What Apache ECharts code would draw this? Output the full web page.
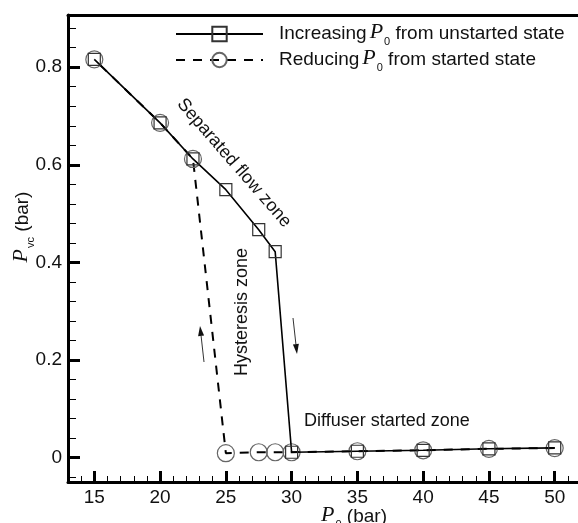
<!DOCTYPE html>
<html lang="en">
<head>
    <meta charset="utf-8">
    <title>Pvc vs P0</title>
    <script src="https://cdn.jsdelivr.net/npm/echarts@6/dist/echarts.min.js"></script>
    <style>
        html, body { margin: 0; padding: 0; background: #fff; }
        #chart { width: 578px; height: 523px; }
    </style>
</head>
<body>
<div id="chart"></div>
<script type="text/javascript">
    // data
    var incP0 = [15, 20, 22.5, 25, 27.5, 28.75, 30, 35, 40, 45, 50];
    var incPvc = [0.816, 0.686, 0.612, 0.549, 0.467, 0.422, 0.011, 0.013, 0.015, 0.018, 0.02];
    var redP0 = [50, 45, 40, 35, 30, 28.75, 27.5, 25, 22.5, 20, 15];
    var redPvc = [0.0195, 0.018, 0.015, 0.013, 0.011, 0.011, 0.011, 0.009, 0.612, 0.686, 0.816];

    // ticks
    var xMajor = [15, 20, 25, 30, 35, 40, 45, 50];
    var xMinor = [14, 16, 17, 18, 19, 21, 22, 23, 24, 26, 27, 28, 29, 31, 32, 33, 34,
                  36, 37, 38, 39, 41, 42, 43, 44, 46, 47, 48, 49, 51];
    var yMajor = [0, 0.2, 0.4, 0.6, 0.8];
    var yMinor = [-0.04, 0.04, 0.08, 0.12, 0.16, 0.24, 0.28, 0.32, 0.36,
                  0.44, 0.48, 0.52, 0.56, 0.64, 0.68, 0.72, 0.76, 0.84, 0.88];

    var FONT = 'Liberation Sans';
    var rich = {
        a: { fontFamily: FONT, fontSize: 19, color: '#111', padding: [0, 0, 0, 11] },
        t: { fontFamily: FONT, fontSize: 19, color: '#111' },
        p: { fontFamily: 'Liberation Serif', fontStyle: 'italic', fontSize: 22, color: '#111', padding: [0, 1, 4, 3] },
        s: { fontFamily: FONT, fontSize: 11, color: '#111', verticalAlign: 'bottom' }
    };

    function pairs(xs, ys) {
        var out = [];
        for (var i = 0; i < xs.length; i++) out.push([xs[i], ys[i]]);
        return out;
    }

    function arrow(x1, y1, x2, y2) {
        var dx = x2 - x1, dy = y2 - y1, len = Math.sqrt(dx * dx + dy * dy);
        var ux = dx / len, uy = dy / len, hl = 10, hw = 3;
        var bx = x2 - ux * hl, by = y2 - uy * hl;
        return [
            { type: 'line', shape: { x1: x1, y1: y1, x2: bx, y2: by }, style: { stroke: '#333', lineWidth: 1 } },
            { type: 'polygon', shape: { points: [[x2, y2], [bx - uy * hw, by + ux * hw], [bx + uy * hw, by - ux * hw]] },
              style: { fill: '#111' } }
        ];
    }

    var myChart = echarts.init(document.getElementById('chart'));

    var option = {
        animation: false,
        backgroundColor: '#fff',
        grid: { left: 68, right: -3, top: 15, bottom: 41, show: false, containLabel: false, outerBoundsMode: 'none' },
        legend: {
            orient: 'vertical',
            left: 175,
            top: 21,
            padding: 0,
            itemWidth: 87,
            itemHeight: 18,
            itemGap: 0,
            data: ['inc', 'red'],
            formatter: function (name) {
                if (name === 'inc') return '{a|Increasing}{p|P}{s|0}{t| from unstarted state}';
                return '{a|Reducing}{p|P}{s|0}{t| from started state}';
            },
            textStyle: { rich: rich }
        },
        xAxis: [
            {
                type: 'value', position: 'bottom', min: 13, max: 52,
                axisLine: { show: true, onZero: false, lineStyle: { color: '#000', width: 3 } },
                axisTick: { show: true, inside: true, length: 11, customValues: xMajor, lineStyle: { color: '#000', width: 3 } },
                axisLabel: { customValues: xMajor, margin: 6, fontFamily: FONT, fontSize: 19, color: '#111' },
                splitLine: { show: false },
                name: '{p|P}{s|0}{t| (bar)}',
                nameLocation: 'middle',
                nameGap: 22,
                nameMoveOverlap: false,
                nameTextStyle: { rich: rich, padding: [0, 0, 0, 56] }
            },
            {
                type: 'value', position: 'bottom', min: 13, max: 52,
                axisLine: { show: false, onZero: false },
                axisTick: { show: true, inside: true, length: 6, customValues: xMinor, lineStyle: { color: '#000', width: 1 } },
                axisLabel: { show: false },
                splitLine: { show: false }
            },
            {
                type: 'value', position: 'top', min: 13, max: 52,
                axisLine: { show: true, onZero: false, lineStyle: { color: '#000', width: 3 } },
                axisTick: { show: false },
                axisLabel: { show: false },
                splitLine: { show: false }
            }
        ],
        yAxis: [
            {
                type: 'value', position: 'left', min: -0.05, max: 0.907,
                axisLine: { show: true, onZero: false, lineStyle: { color: '#000', width: 3 } },
                axisTick: { show: true, inside: true, length: 12, customValues: yMajor, lineStyle: { color: '#000', width: 3 } },
                axisLabel: { customValues: yMajor, margin: 6, fontFamily: FONT, fontSize: 19, color: '#111',
                    formatter: function (v) { return v === 0 ? '0' : String(Math.round(v * 10) / 10); } },
                splitLine: { show: false },
                name: '{p|P}{s|vc}{t| (bar)}',
                nameLocation: 'middle',
                nameRotate: 90,
                nameGap: 32,
                nameMoveOverlap: false,
                nameTextStyle: { rich: rich, padding: [0, 0, 0, 40] }
            },
            {
                type: 'value', position: 'left', min: -0.05, max: 0.907,
                axisLine: { show: false, onZero: false },
                axisTick: { show: true, inside: true, length: 8, customValues: yMinor, lineStyle: { color: '#000', width: 1 } },
                axisLabel: { show: false },
                splitLine: { show: false }
            }
        ],
        series: [
            {
                name: 'red',
                type: 'line',
                data: pairs(redP0, redPvc),
                symbol: 'circle',
                symbolSize: 17,
                itemStyle: { color: 'rgba(0,0,0,0)', borderColor: '#666', borderWidth: 1.2 },
                lineStyle: { color: '#000', width: 2, type: [9, 8] },
                z: 3
            },
            {
                name: 'inc',
                type: 'line',
                data: pairs(incP0, incPvc),
                symbol: 'rect',
                symbolSize: 12,
                itemStyle: { color: 'rgba(0,0,0,0)', borderColor: '#333', borderWidth: 1.2 },
                lineStyle: { color: '#000', width: 1.6 },
                z: 4
            }
        ],
        graphic: [
            { type: 'text', x: 234, y: 163, rotation: -49 * Math.PI / 180,
              style: { text: 'Separated flow zone', font: '18px "Liberation Sans"', fill: '#111', align: 'center', verticalAlign: 'middle' } },
            { type: 'text', x: 242, y: 312, rotation: Math.PI / 2,
              style: { text: 'Hysteresis zone', font: '18px "Liberation Sans"', fill: '#111', align: 'center', verticalAlign: 'middle' } },
            { type: 'text', x: 304, y: 421,
              style: { text: 'Diffuser started zone', font: '18px "Liberation Sans"', fill: '#111', align: 'left', verticalAlign: 'middle' } }
        ].concat(arrow(204, 362, 200, 326)).concat(arrow(293, 318, 297, 354))
    };

    myChart.setOption(option);
</script>
</body>
</html>
